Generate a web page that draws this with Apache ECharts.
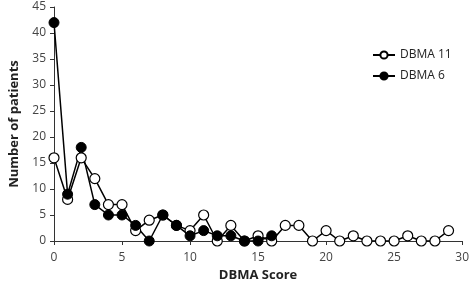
<!DOCTYPE html>
<html>
<head>
<meta charset="utf-8">
<script src="https://cdn.jsdelivr.net/npm/echarts@6/dist/echarts.min.js"></script>
<style>
  html, body { margin: 0; padding: 0; background: #fff; }
  #chart { width: 472px; height: 287px; }
</style>
</head>
<body>
<div id="chart"></div>
<script>
// DBMA score (x) and number of patients per score
var scores = [];
for (var s = 0; s <= 29; s++) scores.push(s);
var dbma11 = [16, 8, 16, 12, 7, 7, 2, 4, 5, 3, 2, 5, 0, 3, 0, 1, 0, 3, 3, 0, 2, 0, 1, 0, 0, 0, 1, 0, 0, 2];
var dbma6 = [42, 9, 18, 7, 5, 5, 3, 0, 5, 3, 1, 2, 1, 1, 0, 0, 1];

function pairs(vals) {
  return vals.map(function (v, i) { return [scores[i], v]; });
}

var chart = echarts.init(document.getElementById("chart"));
var fontFam = "'Open Sans', 'Liberation Sans', sans-serif";

var option = {
  animation: false,
  textStyle: { fontFamily: fontFam },
  grid: { left: 50, right: 8, top: 7, bottom: 45 },
  legend: {
    orient: "vertical",
    left: 367,
    top: 44,
    itemWidth: 22,
    itemHeight: 9,
    itemGap: 9,
    textStyle: { fontSize: 12, color: "#222", fontFamily: fontFam },
    data: ["DBMA 11", "DBMA 6"]
  },
  xAxis: {
    type: "value",
    min: 0,
    max: 30,
    interval: 5,
    name: "DBMA Score",
    nameLocation: "middle",
    nameGap: 28,
    nameTextStyle: { fontSize: 13, fontWeight: "bold", color: "#222" },
    axisLine: { lineStyle: { color: "#333", width: 1 } },
    axisTick: { show: true, length: 4, lineStyle: { color: "#333" } },
    axisLabel: { fontSize: 12, color: "#444", margin: 11 },
    splitLine: { show: false }
  },
  yAxis: {
    type: "value",
    min: 0,
    max: 45,
    interval: 5,
    name: "Number of patients",
    nameLocation: "middle",
    nameGap: 33,
    nameTextStyle: { fontSize: 13, fontWeight: "bold", color: "#222" },
    axisLine: { show: true, lineStyle: { color: "#333", width: 1 } },
    axisTick: { show: true, length: 4, lineStyle: { color: "#333" } },
    axisLabel: { fontSize: 12, color: "#444", margin: 8 },
    splitLine: { show: false }
  },
  series: [
    {
      name: "DBMA 11",
      type: "line",
      data: pairs(dbma11),
      symbol: "circle",
      symbolSize: 10,
      lineStyle: { color: "#000", width: 1.5 },
      itemStyle: { color: "#fff", borderColor: "#000", borderWidth: 1.2 }
    },
    {
      name: "DBMA 6",
      type: "line",
      data: pairs(dbma6),
      symbol: "circle",
      symbolSize: 10,
      lineStyle: { color: "#000", width: 1.5 },
      itemStyle: { color: "#000", borderColor: "#000", borderWidth: 1 }
    }
  ]
};
chart.setOption(option);
</script>
</body>
</html>
